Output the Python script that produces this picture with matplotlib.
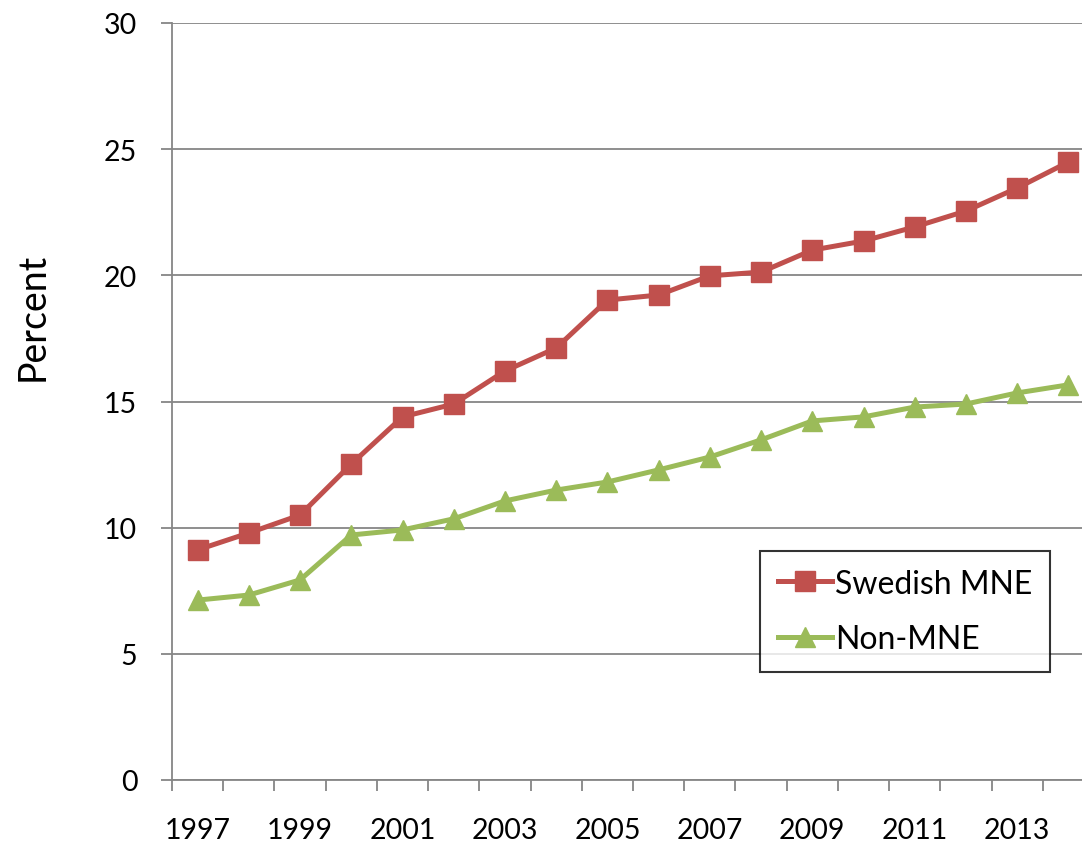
import matplotlib
matplotlib.use('Agg')
import matplotlib.pyplot as plt
import numpy as np

years = list(range(1997, 2015))
swedish_mne = [9.12, 9.79, 10.5, 12.52, 14.39, 14.9, 16.21, 17.12, 19.02, 19.22,
               19.98, 20.13, 21.0, 21.36, 21.92, 22.55, 23.46, 24.49]
non_mne = [7.13, 7.33, 7.93, 9.71, 9.91, 10.35, 11.06, 11.49, 11.81, 12.29,
           12.8, 13.48, 14.23, 14.39, 14.78, 14.9, 15.34, 15.66]
yticks = [0, 5, 10, 15, 20, 25, 30]

plt.rcParams['font.family'] = ['Lato', 'DejaVu Sans']

fig = plt.figure(figsize=(10.82, 8.45), dpi=100)
ax = fig.add_axes([172/1082, 1-781/845, (1094-172)/1082, (781-24)/845])

x = np.arange(len(years))
ax.plot(x, swedish_mne, color='#C0504D', lw=3.6, marker='s', ms=14, label='Swedish MNE')
ax.plot(x, non_mne, color='#9BBB59', lw=3.6, marker='^', ms=15, label='Non-MNE')

ax.set_xlim(-0.5, len(years)-0.5)
ax.set_ylim(0, 30)
ax.set_yticks(yticks)
ax.grid(axis='y', color='#868686', lw=1.3)
ax.set_axisbelow(True)

# category boundary ticks, labels on every other year
ax.set_xticks(np.arange(-0.5, len(years), 1))
ax.set_xticklabels([])
ax.set_xticks(x[::2], minor=True)
ax.set_xticklabels([str(y) for y in years[::2]], minor=True)
ax.tick_params(axis='x', which='major', length=8, width=1.3, color='#868686', direction='out')
ax.tick_params(axis='x', which='minor', length=0, pad=27, labelsize=20.5)
ax.tick_params(axis='y', length=8, width=1.3, color='#868686', pad=17, labelsize=20.5)

for s in ['top', 'right']:
    ax.spines[s].set_visible(False)
for s in ['left', 'bottom']:
    ax.spines[s].set_color('#868686')
    ax.spines[s].set_linewidth(1.3)

fig.text(33/1082, 1-317/845, 'Percent', rotation=90, ha='center', va='center', fontsize=27)

leg = ax.legend(loc='upper left', bbox_to_anchor=(760/1082, 1-552/845),
                bbox_transform=fig.transFigure, fontsize=23, frameon=True,
                fancybox=False, edgecolor='black', handlelength=1.7,
                handletextpad=0.1, borderpad=0.55, labelspacing=0.8, borderaxespad=0)
leg.get_frame().set_linewidth(1.5)

fig.savefig('out.png', dpi=100)
